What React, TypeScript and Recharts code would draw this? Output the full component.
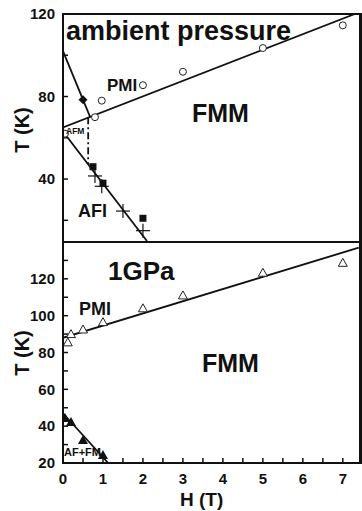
import { ComposedChart, Scatter, Line, XAxis, YAxis } from "recharts";

// field H (T) on x, temperature T (K) on y
const hTicks = [0, 0.5, 1, 1.5, 2, 2.5, 3, 3.5, 4, 4.5, 5, 5.5, 6, 6.5, 7];
const ambientTTicks = [20, 40, 60, 80, 100, 120];
const ambientTLabels = [40, 80, 120];
const gpaTTicks = [20, 30, 40, 50, 60, 70, 80, 90, 100, 110, 120, 130];
const gpaTLabels = [20, 40, 60, 80, 100, 120];

// ambient pressure
const ambOpenCircles = [[0.05, 62], [0.8, 70], [0.97, 78], [2, 85.5], [3, 92], [5, 103.5], [7, 114.5]];
const ambDiamonds = [[0.5, 78.5]];
const ambSquares = [[0.75, 46], [1.0, 38], [2.0, 21]];
const ambPluses = [[0.8, 41.5], [0.97, 36.5], [1.5, 24.5], [2.0, 15]];
const ambPmiLine = [[0, 65], [7.3, 120]];
const ambSteepLine = [[0, 102], [0.68, 70]];
const ambAfiLine = [[0, 63], [2.1, 10]];
const ambDashLine = [[0.63, 70], [0.63, 47]];

// 1 GPa
const gpaOpenTri = [[0.12, 85.5], [0.2, 90], [0.5, 92.5], [1, 96.5], [2, 104], [3, 111], [5, 123.3], [7, 128.7]];
const gpaFilledTri = [[0.05, 44.5], [0.2, 42.2], [0.5, 32.5], [1, 24.4]];
const gpaPmiLine = [[0, 88], [7.4, 137]];
const gpaAfLine = [[0, 47], [1.13, 20]];

const pts = (arr: number[][]) => arr.map(([H, T]) => ({ H, T }));

const font = "'Liberation Sans', Arial, sans-serif";
const tickFont = { fontSize: 15, fontWeight: 700, fill: "#111", fontFamily: font };

const OpenCircle = (p: any) => <circle cx={p.cx} cy={p.cy} r={3.5} fill="#fff" stroke="#222" strokeWidth={1} />;
const Diamond = (p: any) => (
  <polygon points={`${p.cx},${p.cy - 4.5} ${p.cx + 4.5},${p.cy} ${p.cx},${p.cy + 4.5} ${p.cx - 4.5},${p.cy}`} fill="#111" />
);
const Square = (p: any) => <rect x={p.cx - 3.5} y={p.cy - 3.5} width={7} height={7} fill="#111" />;
const Plus = (p: any) => (
  <g stroke="#111" strokeWidth={1.2}>
    <line x1={p.cx - 7} x2={p.cx + 7} y1={p.cy} y2={p.cy} />
    <line x1={p.cx} x2={p.cx} y1={p.cy - 7} y2={p.cy + 7} />
  </g>
);
const OpenTri = (p: any) => (
  <polygon points={`${p.cx},${p.cy - 4.5} ${p.cx + 4.5},${p.cy + 3.5} ${p.cx - 4.5},${p.cy + 3.5}`} fill="#fff" stroke="#222" strokeWidth={1} />
);
const FilledTri = (p: any) => (
  <polygon points={`${p.cx},${p.cy - 5} ${p.cx + 5},${p.cy + 4} ${p.cx - 5},${p.cy + 4}`} fill="#111" />
);

const axisLine = { stroke: "#111", strokeWidth: 2 };
const tickLine = { stroke: "#111", strokeWidth: 1.5 };

function Txt({ x, y, size, children }: { x: number; y: number; size: number; children: any }) {
  return (
    <div style={{ position: "absolute", left: x, top: y, fontFamily: font, fontWeight: 700, fontSize: size, lineHeight: 1, color: "#111", whiteSpace: "nowrap" }}>
      {children}
    </div>
  );
}

function Curve({ data, dash }: { data: number[][]; dash?: string }) {
  return (
    <Line
      data={pts(data)}
      dataKey="T"
      stroke="#111"
      strokeWidth={1.8}
      strokeDasharray={dash}
      dot={false}
      activeDot={false}
      isAnimationActive={false}
      legendType="none"
    />
  );
}

// frame of each panel (plot box border)
const frame = (top: number, height: number) => (
  <div style={{ position: "absolute", left: 62, top: top - 1, width: 297, height: height, border: "2px solid #111", pointerEvents: "none" }} />
);

export default function App() {
  return (
    <div style={{ position: "absolute", left: 0, top: 0, width: 362, height: 511, background: "#fff", overflow: "hidden" }}>
      <div style={{ position: "absolute", left: 0, top: 0 }}>
        <ComposedChart width={362} height={250} margin={{ top: 14, right: 1, bottom: 0, left: 0 }}>
          <XAxis dataKey="H" type="number" domain={[0, 7.43]} ticks={hTicks} height={8} tick={false} tickSize={-5} axisLine={axisLine} tickLine={tickLine} allowDataOverflow />
          <XAxis xAxisId="top" orientation="top" type="number" domain={[0, 7.43]} ticks={hTicks} height={0} tick={false} tickSize={-5} axisLine={axisLine} tickLine={tickLine} allowDataOverflow />
          <YAxis
            type="number"
            domain={[9.5, 120]}
            ticks={ambientTTicks}
            width={63}
            tickSize={-5}
            tickMargin={13}
            tick={tickFont}
            tickFormatter={(v: number) => (ambientTLabels.includes(v) ? String(v) : "")}
            axisLine={axisLine}
            tickLine={tickLine}
            stroke="#111"
            allowDataOverflow
          />
          <YAxis yAxisId="r" orientation="right" type="number" domain={[9.5, 120]} ticks={ambientTTicks} width={1} tickSize={-5} tick={false} axisLine={axisLine} tickLine={tickLine} stroke="#111" allowDataOverflow />
          <Curve data={ambPmiLine} />
          <Curve data={ambSteepLine} />
          <Curve data={ambAfiLine} />
          <Curve data={ambDashLine} dash="7 3 2 3" />
          <Scatter data={pts(ambOpenCircles)} dataKey="T" shape={OpenCircle} isAnimationActive={false} />
          <Scatter data={pts(ambDiamonds)} dataKey="T" shape={Diamond} isAnimationActive={false} />
          <Scatter data={pts(ambSquares)} dataKey="T" shape={Square} isAnimationActive={false} />
          <Scatter data={pts(ambPluses)} dataKey="T" shape={Plus} isAnimationActive={false} />
        </ComposedChart>
      </div>
      <div style={{ position: "absolute", left: 0, top: 242 }}>
        <ComposedChart width={362} height={269} margin={{ top: 0, right: 1, bottom: 0, left: 0 }}>
          <XAxis
            dataKey="H"
            type="number"
            domain={[0, 7.43]}
            ticks={hTicks}
            height={48}
            tickSize={-5}
            tickMargin={15}
            tick={tickFont}
            tickFormatter={(v: number) => (Number.isInteger(v) ? String(v) : "")}
            axisLine={axisLine}
            tickLine={tickLine}
            allowDataOverflow
          />
          <XAxis xAxisId="top" orientation="top" type="number" domain={[0, 7.43]} ticks={hTicks} height={0} tick={false} tickSize={-5} axisLine={axisLine} tickLine={tickLine} allowDataOverflow />
          <YAxis
            type="number"
            domain={[20, 140]}
            ticks={gpaTTicks}
            width={63}
            tickSize={-5}
            tickMargin={13}
            tick={tickFont}
            tickFormatter={(v: number) => (gpaTLabels.includes(v) ? String(v) : "")}
            axisLine={axisLine}
            tickLine={tickLine}
            stroke="#111"
            allowDataOverflow
          />
          <YAxis yAxisId="r" orientation="right" type="number" domain={[20, 140]} ticks={gpaTTicks} width={1} tickSize={-5} tick={false} axisLine={axisLine} tickLine={tickLine} stroke="#111" allowDataOverflow />
          <Curve data={gpaPmiLine} />
          <Curve data={gpaAfLine} />
          <Scatter data={pts(gpaOpenTri)} dataKey="T" shape={OpenTri} isAnimationActive={false} />
          <Scatter data={pts(gpaFilledTri)} dataKey="T" shape={FilledTri} isAnimationActive={false} />
        </ComposedChart>
      </div>
      {frame(14, 226)}
      {frame(242, 219)}

      <Txt x={66} y={18} size={27}>ambient pressure</Txt>
      <Txt x={107} y={77} size={17}>PMI</Txt>
      <Txt x={192} y={101} size={25}>FMM</Txt>
      <Txt x={66} y={127} size={8.5}>AFM</Txt>
      <Txt x={78} y={202} size={18}>AFI</Txt>

      <Txt x={108} y={258} size={26}>1GPa</Txt>
      <Txt x={79} y={300} size={18}>PMI</Txt>
      <Txt x={202} y={351} size={25}>FMM</Txt>
      <Txt x={64} y={447} size={11}>AF+FM</Txt>

      <Txt x={180} y={490} size={19}>H (T)</Txt>
      <div style={{ position: "absolute", left: 22, top: 130, transform: "translate(-50%, -50%) rotate(-90deg)", fontFamily: font, fontWeight: 700, fontSize: 20, lineHeight: 1, whiteSpace: "nowrap", color: "#111" }}>T (K)</div>
      <div style={{ position: "absolute", left: 22, top: 353, transform: "translate(-50%, -50%) rotate(-90deg)", fontFamily: font, fontWeight: 700, fontSize: 20, lineHeight: 1, whiteSpace: "nowrap", color: "#111" }}>T (K)</div>
    </div>
  );
}
